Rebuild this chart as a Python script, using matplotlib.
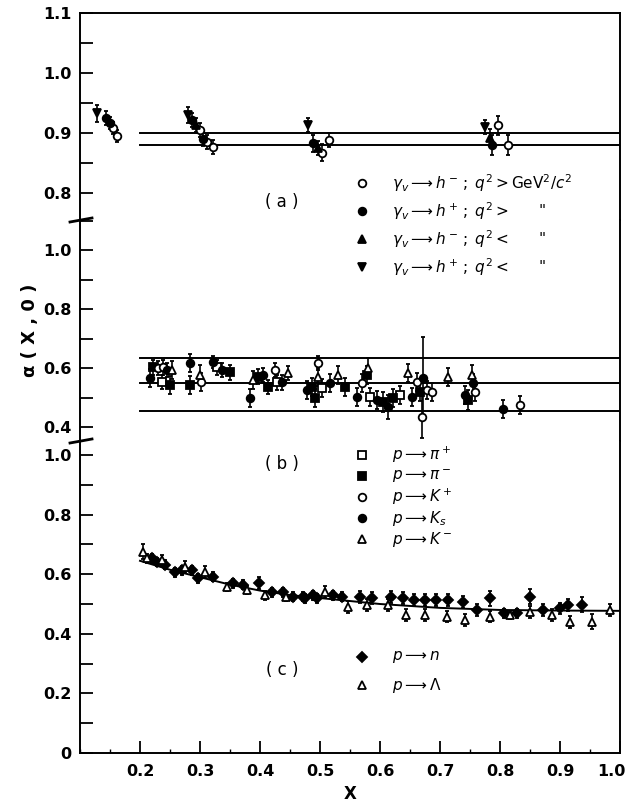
import matplotlib
matplotlib.use('Agg')
import matplotlib.pyplot as plt
from matplotlib.lines import Line2D
from matplotlib.ticker import MultipleLocator
from matplotlib.transforms import ScaledTranslation

plt.rcParams['font.family'] = ['DejaVu Sans']
plt.rcParams['mathtext.fontset'] = 'dejavusans'

# --- panel (a): virtual photon -> hadron ---
a_hm_hi_x = [0.155, 0.162, 0.300, 0.311, 0.321, 0.503, 0.515, 0.797, 0.813]
a_hm_hi_y = [0.908, 0.895, 0.905, 0.885, 0.877, 0.867, 0.888, 0.913, 0.880]
a_hm_hi_e = [0.010, 0.010, 0.012, 0.012, 0.012, 0.014, 0.012, 0.016, 0.016]
a_hp_hi_x = [0.143, 0.150, 0.286, 0.305, 0.488, 0.787]
a_hp_hi_y = [0.925, 0.917, 0.922, 0.890, 0.883, 0.880]
a_hp_hi_e = [0.012, 0.010, 0.012, 0.012, 0.014, 0.016]
a_hm_lo_x = [0.293, 0.497, 0.783]
a_hm_lo_y = [0.913, 0.875, 0.892]
a_hm_lo_e = [0.012, 0.012, 0.014]
a_hp_lo_x = [0.128, 0.280, 0.480, 0.775]
a_hp_lo_y = [0.933, 0.930, 0.913, 0.910]
a_hp_lo_e = [0.014, 0.014, 0.012, 0.012]
a_lines = [0.900, 0.880]

# --- panel (b): p -> meson ---
b_pip_x = [0.236, 0.328, 0.428, 0.503, 0.583, 0.633]
b_pip_y = [0.553, 0.603, 0.552, 0.532, 0.502, 0.508]
b_pip_e = [0.025, 0.025, 0.025, 0.030, 0.030, 0.030]
b_pim_x = [0.222, 0.250, 0.283, 0.350, 0.397, 0.413, 0.486, 0.492, 0.542, 0.578, 0.605, 0.622, 0.667, 0.747]
b_pim_y = [0.603, 0.542, 0.542, 0.586, 0.570, 0.536, 0.536, 0.498, 0.536, 0.576, 0.485, 0.498, 0.519, 0.492]
b_pim_e = [0.025, 0.030, 0.030, 0.025, 0.025, 0.025, 0.030, 0.030, 0.030, 0.030, 0.035, 0.030, 0.030, 0.035]
b_kp_x = [0.230, 0.238, 0.302, 0.425, 0.497, 0.570, 0.662, 0.670, 0.678, 0.687, 0.758, 0.833]
b_kp_y = [0.600, 0.603, 0.552, 0.593, 0.617, 0.549, 0.552, 0.434, 0.525, 0.519, 0.519, 0.475]
b_kp_e = [0.025, 0.025, 0.030, 0.025, 0.025, 0.030, 0.030, 0.070, 0.030, 0.030, 0.030, 0.030]
b_ks_x = [0.217, 0.245, 0.283, 0.322, 0.337, 0.383, 0.405, 0.437, 0.478, 0.517, 0.562, 0.595, 0.613, 0.653, 0.672, 0.742, 0.755, 0.805]
b_ks_y = [0.566, 0.593, 0.617, 0.620, 0.593, 0.498, 0.576, 0.552, 0.525, 0.549, 0.502, 0.492, 0.468, 0.502, 0.566, 0.508, 0.549, 0.460]
b_ks_e = [0.030, 0.025, 0.030, 0.020, 0.025, 0.030, 0.025, 0.025, 0.030, 0.030, 0.030, 0.030, 0.040, 0.030, 0.140, 0.030, 0.030, 0.030]
b_km_x = [0.253, 0.300, 0.388, 0.447, 0.497, 0.530, 0.580, 0.647, 0.713, 0.753]
b_km_y = [0.593, 0.576, 0.560, 0.583, 0.570, 0.576, 0.600, 0.583, 0.570, 0.576]
b_km_e = [0.030, 0.035, 0.030, 0.025, 0.030, 0.030, 0.035, 0.030, 0.030, 0.035]
b_lines = [0.635, 0.550, 0.455]

# --- panel (c): p -> baryon ---
c_n_x = [0.220, 0.228, 0.241, 0.258, 0.270, 0.286, 0.297, 0.322, 0.355, 0.372, 0.398, 0.420, 0.438,
         0.455, 0.475, 0.495, 0.472, 0.489, 0.522, 0.536, 0.567, 0.586, 0.619, 0.639, 0.656, 0.675,
         0.694, 0.714, 0.739, 0.761, 0.783, 0.806, 0.828, 0.850, 0.872, 0.900, 0.914, 0.936]
c_n_y = [0.654, 0.641, 0.631, 0.607, 0.614, 0.614, 0.587, 0.591, 0.570, 0.564, 0.570, 0.540, 0.540,
         0.524, 0.520, 0.520, 0.525, 0.530, 0.530, 0.525, 0.525, 0.519, 0.525, 0.519, 0.514, 0.514,
         0.514, 0.514, 0.508, 0.480, 0.519, 0.469, 0.469, 0.525, 0.480, 0.485, 0.497, 0.497]
c_n_e = [0.015, 0.015, 0.015, 0.015, 0.015, 0.015, 0.015, 0.015, 0.015, 0.015, 0.020, 0.015, 0.015,
         0.015, 0.015, 0.015, 0.015, 0.015, 0.015, 0.015, 0.020, 0.020, 0.020, 0.020, 0.020, 0.020,
         0.020, 0.020, 0.020, 0.020, 0.025, 0.015, 0.015, 0.025, 0.020, 0.020, 0.020, 0.025]
c_l_x = [0.205, 0.211, 0.236, 0.275, 0.308, 0.345, 0.378, 0.408, 0.443, 0.508, 0.547, 0.578, 0.614,
         0.644, 0.675, 0.711, 0.742, 0.783, 0.817, 0.850, 0.886, 0.917, 0.953, 0.983]
c_l_y = [0.675, 0.654, 0.648, 0.624, 0.607, 0.557, 0.547, 0.530, 0.524, 0.541, 0.491, 0.497, 0.497,
         0.463, 0.463, 0.458, 0.446, 0.458, 0.463, 0.474, 0.463, 0.441, 0.441, 0.480]
c_l_e = [0.025, 0.015, 0.015, 0.020, 0.020, 0.015, 0.015, 0.015, 0.015, 0.020, 0.020, 0.020, 0.020,
         0.020, 0.020, 0.020, 0.020, 0.020, 0.015, 0.020, 0.020, 0.020, 0.025, 0.020]
c_fit_x = [0.20, 0.25, 0.30, 0.35, 0.40, 0.45, 0.50, 0.60, 0.70, 0.80, 0.90, 1.00]
c_fit_y = [0.645, 0.615, 0.590, 0.565, 0.545, 0.530, 0.520, 0.500, 0.487, 0.480, 0.478, 0.477]

x_ticks = [0.2, 0.3, 0.4, 0.5, 0.6, 0.7, 0.8, 0.9, 1.0]
x_ticklabels = ['0.2', '0.3', '0.4', '0.5', '0.6', '0.7', '0.8', '0.9', '1.0']

W, H = 628, 805
fig = plt.figure(figsize=(W / 100, H / 100), dpi=100)


def fx(px):
    return px / W


def fy(py):
    return 1 - py / H


left = fx(80)
width = 540 / W
ax_a = fig.add_axes([left, fy(220), width, 207 / H])
ax_b = fig.add_axes([left, fy(441), width, 221 / H])
ax_c = fig.add_axes([left, fy(753), width, 312 / H])

ms = 5.5
ekw = dict(color='black', ecolor='black', elinewidth=1.2, capsize=1.5, ls='none', mew=1.3)


def pts(ax, x, y, e, marker, filled):
    ax.errorbar(x, y, yerr=e, fmt=marker, ms=ms,
                mfc='black' if filled else 'white', mec='black', **ekw)


# panel a
for v in a_lines:
    ax_a.plot([0.2, 1.0], [v, v], color='black', lw=1.4)
pts(ax_a, a_hm_hi_x, a_hm_hi_y, a_hm_hi_e, 'o', False)
pts(ax_a, a_hp_hi_x, a_hp_hi_y, a_hp_hi_e, 'o', True)
pts(ax_a, a_hm_lo_x, a_hm_lo_y, a_hm_lo_e, '^', True)
pts(ax_a, a_hp_lo_x, a_hp_lo_y, a_hp_lo_e, 'v', True)
ax_a.set_ylim(0.755, 1.1)
ax_a.yaxis.set_major_locator(MultipleLocator(0.1))
ax_a.yaxis.set_minor_locator(MultipleLocator(0.05))

# panel b
for v in b_lines:
    ax_b.plot([0.2, 1.0], [v, v], color='black', lw=1.4)
pts(ax_b, b_pip_x, b_pip_y, b_pip_e, 's', False)
pts(ax_b, b_pim_x, b_pim_y, b_pim_e, 's', True)
pts(ax_b, b_kp_x, b_kp_y, b_kp_e, 'o', False)
pts(ax_b, b_ks_x, b_ks_y, b_ks_e, 'o', True)
pts(ax_b, b_km_x, b_km_y, b_km_e, '^', False)
ax_b.set_ylim(0.3525, 1.102)
ax_b.yaxis.set_major_locator(MultipleLocator(0.2))
ax_b.yaxis.set_minor_locator(MultipleLocator(0.1))

# panel c
ax_c.plot(c_fit_x, c_fit_y, color='black', lw=1.4)
pts(ax_c, c_n_x, c_n_y, c_n_e, 'D', True)
pts(ax_c, c_l_x, c_l_y, c_l_e, '^', False)
ax_c.set_ylim(0, 1.047)
ax_c.yaxis.set_minor_locator(MultipleLocator(0.1))
ax_c.set_yticks([0, 0.2, 0.4, 0.6, 0.8, 1.0])
ax_c.set_yticklabels(['0', '0.2', '0.4', '0.6', '0.8', '1.0'])

for ax in (ax_a, ax_b, ax_c):
    ax.set_xlim(0.1, 1.0)
    ax.tick_params(axis='y', which='both', direction='in', length=9, width=1.3,
                   labelsize=11.5, pad=6)
    ax.tick_params(axis='x', which='major', direction='in', length=9, width=1.3,
                   labelsize=11.5, pad=8)
    ax.tick_params(axis='x', which='minor', direction='in', length=3, width=1.0)
    for lab in ax.get_yticklabels():
        lab.set_fontweight('bold')
    for s in ax.spines.values():
        s.set_linewidth(1.4)
    ax.xaxis.set_major_locator(MultipleLocator(0.1))
    ax.xaxis.set_minor_locator(MultipleLocator(0.05))

for ax in (ax_a, ax_b):
    ax.spines['bottom'].set_visible(False)
    ax.tick_params(axis='x', which='both', bottom=False, labelbottom=False)
for ax in (ax_b, ax_c):
    ax.spines['top'].set_visible(False)
ax_a.tick_params(axis='x', which='both', top=False)
ax_c.set_xticks(x_ticks)
ax_c.set_xticklabels(x_ticklabels, fontweight='bold')
# nudge the last label so it stays inside the canvas
last = ax_c.get_xticklabels()[-1]
last.set_transform(last.get_transform() + ScaledTranslation(-6 / 72, 0, fig.dpi_scale_trans))
ax_c.set_xlabel('X', fontsize=12, fontweight='bold', labelpad=4)

# axis breaks on the left spine
for py in (220, 441):
    fig.add_artist(Line2D([fx(70), fx(92)], [fy(py + 2), fy(py - 2)],
                          color='black', lw=2))

# y label
fig.text(fx(30), fy(330), 'α ( X , 0 )', rotation=90, ha='center', va='center',
         fontsize=13, fontweight='bold')

# panel tags
fig.text(fx(282), fy(202), '( a )', ha='center', va='center', fontsize=12)
fig.text(fx(282), fy(464), '( b )', ha='center', va='center', fontsize=12)
fig.text(fx(282), fy(670), '( c )', ha='center', va='center', fontsize=12)


def leg(py, marker, filled, label, ditto=False, mx=362, tx=392):
    fig.add_artist(Line2D([fx(mx)], [fy(py)], marker=marker, ms=ms, ls='none',
                          mfc='black' if filled else 'white', mec='black', mew=1.3))
    fig.text(fx(tx), fy(py), label, ha='left', va='center', fontsize=11)
    if ditto:
        fig.text(fx(542), fy(py), '"', ha='center', va='center', fontsize=11)


leg(183, 'o', False, r'$\gamma_v \longrightarrow h^-\,;\;q^2 > \mathrm{GeV}^2/c^2$')
leg(211, 'o', True, r'$\gamma_v \longrightarrow h^+\,;\;q^2 >$', ditto=True)
leg(239, '^', True, r'$\gamma_v \longrightarrow h^-\,;\;q^2 <$', ditto=True)
leg(267, 'v', True, r'$\gamma_v \longrightarrow h^+\,;\;q^2 <$', ditto=True)

leg(455, 's', False, r'$p \longrightarrow \pi^+$')
leg(476, 's', True, r'$p \longrightarrow \pi^-$')
leg(497, 'o', False, r'$p \longrightarrow K^+$')
leg(518, 'o', True, r'$p \longrightarrow K_s$')
leg(539, '^', False, r'$p \longrightarrow K^-$')

leg(657, 'D', True, r'$p \longrightarrow n$')
leg(685, '^', False, r'$p \longrightarrow \Lambda$')

fig.savefig('out.png', dpi=100)
